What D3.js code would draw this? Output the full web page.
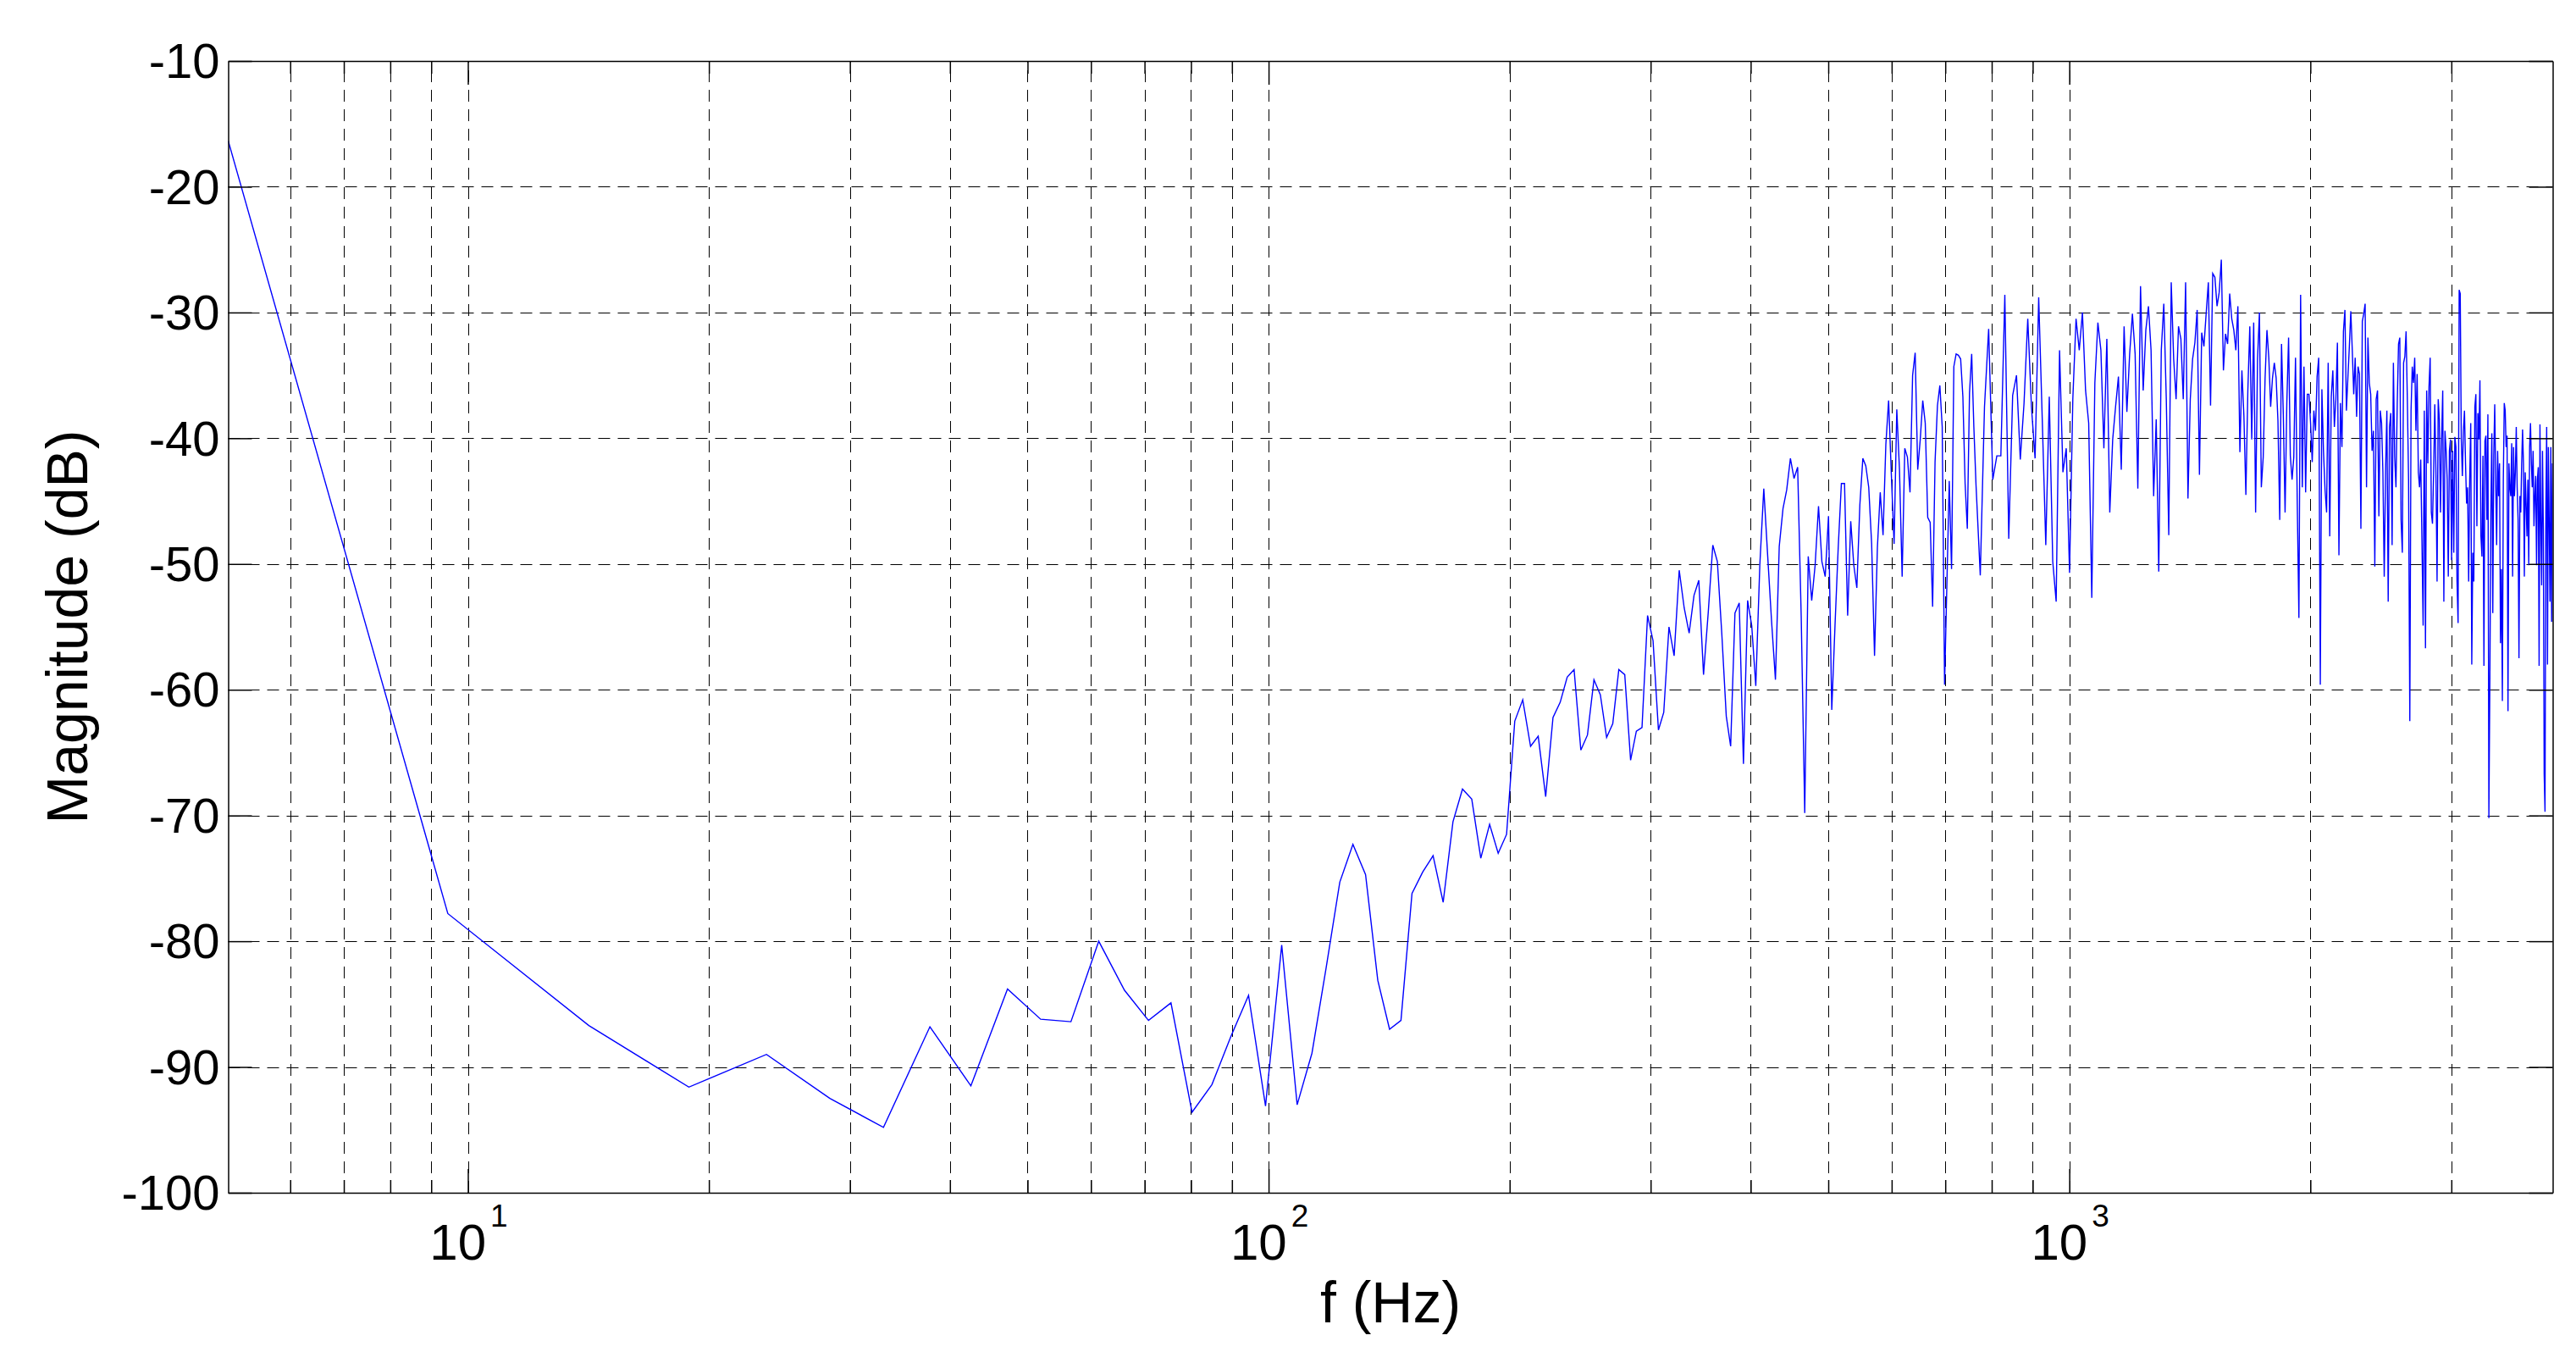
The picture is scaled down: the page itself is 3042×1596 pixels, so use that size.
<!DOCTYPE html>
<html>
<head>
<meta charset="utf-8">
<script src="https://cdn.jsdelivr.net/npm/d3@7"></script>
<style>
  html, body { margin: 0; padding: 0; background: #ffffff; }
  svg text { font-family: "Liberation Sans", Arial, Helvetica, sans-serif; fill: #000; }
</style>
</head>
<body>
<svg id="chart" width="3042" height="1596"></svg>
<script>
// ---------------- data ----------------
const binHz = 4.72;               // FFT bin spacing (Hz)
const firstFreq = 5.02;           // first plotted point (left edge)
const firstMag = -16.35;          // dB at first point

// bins 2..161 (one value per bin)
const magFine = [
  -77.8,-86.7,-91.6,-89.0,-92.5,-94.8,-86.8,-91.5,-83.8,-86.2,
  -86.4,-80.0,-83.9,-86.3,-84.9,-93.6,-91.4,-87.6,-84.3,-93.1,
  -80.3,-93.0,-88.9,-82.1,-75.3,-72.3,-74.7,-83.1,-87.0,-86.3,
  -76.2,-74.5,-73.2,-76.9,-70.5,-67.9,-68.7,-73.4,-70.7,-73.0,
  -71.5,-62.5,-60.8,-64.5,-63.7,-68.5,-62.2,-61.0,-59.0,-58.4,
  -64.8,-63.6,-59.2,-60.4,-63.8,-62.7,-58.4,-58.8,-65.6,-63.3,
  -63.0,-54.1,-56.1,-63.2,-61.8,-55.0,-57.3,-50.5,-53.5,-55.5,
  -52.5,-51.3,-58.8,-53.9,-48.5,-49.8,-55.6,-62.1,-64.5,-53.9,
  -53.1,-65.9,-52.9,-54.9,-59.7,-50.1,-44.0,-49.4,-54.6,-59.2,
  -48.6,-45.6,-44.1,-41.6,-43.2,-42.3,-54.2,-69.8,-49.4,-52.9,
  -50.1,-45.4,-49.8,-51.0,-46.2,-61.6,-54.9,-48.7,-43.6,-43.6,
  -54.1,-46.6,-50.1,-51.9,-45.3,-41.6,-42.2,-43.9,-48.4,-57.3,
  -48.7,-44.3,-47.7,-40.5,-37.0,-42.9,-48.4,-37.7,-42.5,-51.0,
  -40.8,-41.5,-44.3,-35.0,-33.2,-42.5,-40.1,-37.0,-38.8,-46.3,
  -46.7,-53.4,-41.9,-37.4,-35.8,-39.1,-59.6,-51.5,-43.4,-50.4,
  -34.3,-33.3,-33.4,-33.7,-36.7,-43.6,-47.2,-36.4,-33.3,-39.1
];

// bins 162..850, every second bin
const magCoarse = [
  -43.7,-50.9,-37.5,-31.3,-43.3,-41.4,-41.4,-28.6,-48.0,-36.6,
  -35.0,-41.7,-37.2,-30.5,-37.5,-41.6,-28.8,-38.5,-48.5,-36.7,
  -49.8,-53.0,-33.0,-42.7,-40.8,-50.7,-36.9,-30.5,-33.0,-30.0,
  -36.2,-38.8,-52.7,-35.6,-30.8,-33.0,-40.8,-32.1,-45.9,-40.1,
  -37.5,-35.1,-42.5,-31.1,-37.9,-33.3,-30.1,-33.3,-44.0,-27.9,
  -36.2,-31.4,-29.5,-33.0,-44.6,-38.5,-50.6,-33.0,-29.3,-36.9,
  -47.7,-27.6,-33.7,-36.9,-31.1,-32.1,-36.9,-27.6,-44.8,-36.9,
  -33.7,-32.4,-29.8,-42.9,-31.6,-32.7,-30.1,-27.6,-37.4,-26.9,
  -27.2,-29.5,-28.4,-25.8,-34.6,-31.7,-32.5,-28.5,-30.5,-31.4,
  -33.0,-29.5,-41.1,-34.6,-38.2,-44.5,-36.2,-31.1,-40.1,-30.8,
  -45.9,-33.7,
  -30.0,-43.9,-41.5,-35.2,-31.4,-33.6,-37.5,-35.2,-34.0,-35.2,
  -38.6,-46.5,-32.5,-38.1,-45.9,-37.2,-32.0,-41.4,-43.3,-41.5,
  -33.6,-44.9,-54.3,-28.6,-43.9,-34.3,-44.3,-36.5,-36.5,-38.8,
  -41.9,-37.8,-39.4,-35.1,-33.6,-59.6,-36.1,-41.0,-44.1,-45.9,
  -34.0,-47.8,-36.7,-34.6,-39.1,-36.9,-32.4,-49.3,-37.2,-40.7,
  -31.5,-29.8,-37.8,-35.2,-32.7,-29.9,-33.0,-36.5,-33.6,-38.3,
  -34.3,-34.9,-47.2,-30.7,-30.1,-29.3,-43.9,-32.0,-35.6,-36.5,
  -41.0,-39.4,-50.2,-36.9,-36.2,-46.2,-37.8,-38.8,-42.7,-51.0,
  -42.7,-37.8,-53.0,-39.1,-38.0,-48.5,-34.0,-41.5,-43.9,-37.2,
  -32.5,-32.0,-46.5,-49.1,-34.0,-33.5,-31.5,-36.9,-43.3,-62.5,
  -37.8,-34.3,-35.6,-33.6,-39.4,-34.9,-42.7,-43.9,-41.7,-48.1,
  -54.9,-37.8,-56.7,-36.2,-42.0,-35.9,-33.6,-45.9,-46.8,-42.7,
  -37.3,-42.7,-51.4,-36.9,-38.5,-45.9,-40.1,-36.2,-53.0,-39.4,
  -40.9,-43.3,-51.0,-41.0,-40.1,-49.7,-41.0,-49.1,-39.9,-40.7,
  -51.4,-54.7,-28.2,-28.5,-40.1,-43.0,-39.4,-37.8,-42.0,-45.2,
  -43.9,-51.4,-43.3,-38.8,-58.0,-49.1,-51.4,-37.5,-36.5,-47.0,
  -38.0,-40.1,-35.4,-47.8,-49.4,-41.4,-58.1,-40.2,-39.8,-46.5,
  -38.1,-70.2,-59.1,-46.2,-39.6,-53.9,-41.4,-37.3,-43.3,-48.5,
  -41.0,-44.6,-42.0,-56.3,-50.4,-60.9,-43.3,-37.2,-37.8,-40.7,
  -39.8,-61.7,-42.0,-43.9,-44.6,-40.4,-51.0,-40.7,-44.6,-42.7,
  -39.1,-43.9,-46.5,-57.5,-44.6,-45.9,-42.0,-39.3,-42.0,-51.0,
  -42.7,-45.2,-47.8,-43.3,-50.1,-40.7,-38.8,-42.0,-43.9,-41.0,
  -47.0,-44.6,-43.0,-50.1,-43.3,-42.3,-58.1,-38.9,-46.5,-51.7,
  -41.0,-47.2,-66.7,-69.7,-45.9,-39.1,-58.0,-40.7,-46.5,-53.0,
  -40.7,-54.6,-42.0
];

const yTicks = [-100,-90,-80,-70,-60,-50,-40,-30,-20,-10];
const yTickLabels = ["-100","-90","-80","-70","-60","-50","-40","-30","-20","-10"];
const xMajor = [10, 100, 1000];
const xMajorBase = ["10", "10", "10"];
const xMajorExp = ["1", "2", "3"];
const xMinor = [6,7,8,9,20,30,40,50,60,70,80,90,200,300,400,500,600,700,800,900,2000,3000];
const xDomain = [5.02, 4015];
const yDomain = [-100, -10];
const xTitle = "f (Hz)";
const yTitle = "Magnitude (dB)";

// ---------------- build series ----------------
const points = [{f: firstFreq, m: firstMag}]
  .concat(magFine.map((m, i) => ({f: binHz * (i + 2), m})))
  .concat(magCoarse.map((m, i) => ({f: binHz * (162 + 2 * i), m})));

// ---------------- layout ----------------
const L = 269.5, R = 3014.5, T = 72, B = 1408;
const svg = d3.select("#chart");
svg.append("rect").attr("width", 3042).attr("height", 1596).attr("fill", "#fff");

const x = d3.scaleLog().domain(xDomain).range([L, R]);
const y = d3.scaleLinear().domain(yDomain).range([B, T]);

const dash = "14,9";
const snap = v => Math.round(v) + 0.5;
// grid (1px black dashes, snapped to pixel centres)
const grid = svg.append("g").attr("stroke", "#000").attr("stroke-width", 1)
  .attr("stroke-dasharray", dash).attr("fill", "none");
grid.selectAll("line.gx").data(xMajor.concat(xMinor)).join("line")
  .attr("x1", d => snap(x(d))).attr("x2", d => snap(x(d))).attr("y1", B).attr("y2", T);
grid.selectAll("line.gy").data(yTicks.filter(v => v > -100 && v < -10)).join("line")
  .attr("y1", d => snap(y(d))).attr("y2", d => snap(y(d))).attr("x1", L).attr("x2", R);

// data line
svg.append("clipPath").attr("id", "clip").append("rect")
  .attr("x", L).attr("y", T).attr("width", R - L).attr("height", B - T);
const line = d3.line().x(d => x(d.f)).y(d => y(d.m));
svg.append("path").datum(points)
  .attr("clip-path", "url(#clip)")
  .attr("fill", "none").attr("stroke", "#0000ff").attr("stroke-width", 1.4)
  .attr("stroke-linejoin", "miter")
  .attr("d", line);

// axes (ticks inward, MATLAB style)
function styleAxis(g) {
  g.selectAll(".domain").attr("stroke", "#000").attr("stroke-width", 1.5);
  g.selectAll(".tick line").attr("stroke", "#000").attr("stroke-width", 1.5);
}
const leftAxis = svg.append("g").attr("transform", `translate(${L},0)`)
  .call(d3.axisLeft(y).tickValues(yTicks).tickSizeInner(-28).tickSizeOuter(0).tickPadding(10)
        .tickFormat((d, i) => yTickLabels[i]));
styleAxis(leftAxis);
leftAxis.selectAll(".tick text").attr("font-size", 58).attr("dy", "0.34em")
  .style("font-family", '"Liberation Sans", Arial, sans-serif');

const rightAxis = svg.append("g").attr("transform", `translate(${R},0)`)
  .call(d3.axisRight(y).tickValues(yTicks).tickSizeInner(-28).tickSizeOuter(0).tickFormat(""));
styleAxis(rightAxis);

const bottomAxis = svg.append("g").attr("transform", `translate(0,${B})`)
  .call(d3.axisBottom(x).tickValues(xMajor).tickSizeInner(-28).tickSizeOuter(0).tickFormat(""));
styleAxis(bottomAxis);
const bottomMinor = svg.append("g").attr("transform", `translate(0,${B})`)
  .call(d3.axisBottom(x).tickValues(xMinor).tickSizeInner(-15).tickSizeOuter(0).tickFormat(""));
styleAxis(bottomMinor);
bottomMinor.select(".domain").remove();

const topAxis = svg.append("g").attr("transform", `translate(0,${T})`)
  .call(d3.axisTop(x).tickValues(xMajor).tickSizeInner(-28).tickSizeOuter(0).tickFormat(""));
styleAxis(topAxis);
const topMinor = svg.append("g").attr("transform", `translate(0,${T})`)
  .call(d3.axisTop(x).tickValues(xMinor).tickSizeInner(-15).tickSizeOuter(0).tickFormat(""));
styleAxis(topMinor);
topMinor.select(".domain").remove();

// x tick labels: 10^n
const xl = svg.append("g").selectAll("text").data(xMajor).join("text")
  .attr("x", d => x(d) + 1).attr("y", 1487)
  .attr("text-anchor", "middle");
xl.append("tspan").attr("font-size", 60).text((d, i) => xMajorBase[i]);
xl.append("tspan").attr("font-size", 37).attr("dx", 5).attr("dy", -39).text((d, i) => xMajorExp[i]);

// axis titles
svg.append("text").attr("x", (L + R) / 2).attr("y", 1561)
  .attr("text-anchor", "middle").attr("font-size", 68).text(xTitle);
svg.append("text").attr("transform", `translate(103,${(T + B) / 2}) rotate(-90)`)
  .attr("text-anchor", "middle").attr("font-size", 68).text(yTitle);
</script>
</body>
</html>
